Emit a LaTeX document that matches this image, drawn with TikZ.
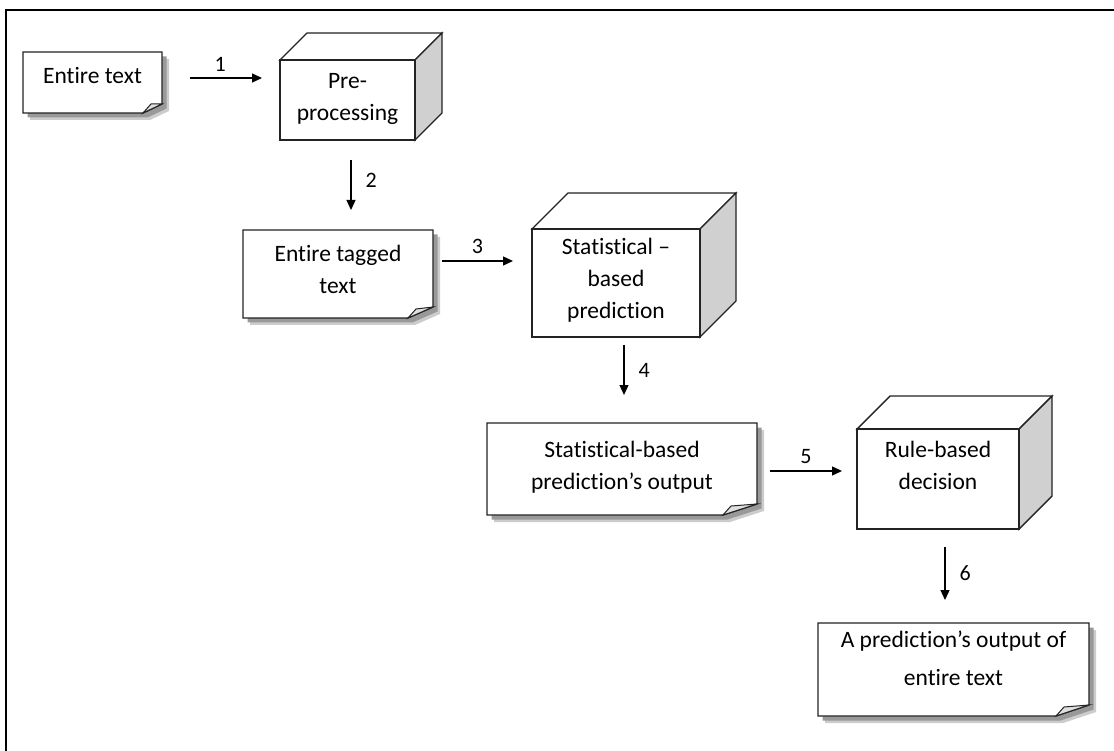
\documentclass[tikz,border=0pt]{standalone}
\usepackage{fontspec}
\setmainfont{Carlito}[Ligatures={NoCommon}]
\usetikzlibrary{arrows.meta,calc,backgrounds}
\definecolor{sidegray}{RGB}{208,208,208}
\definecolor{edge}{RGB}{35,35,35}

% text block of fixed size, set from the top: width, height, top gap, text
\newcommand\boxtext[4]{\parbox[c][#2pt][t]{#1pt}{\centering\vspace*{#3pt}\strut #4}}

% sticky note outline with shadow and folded corner: node, corner cut x, corner cut y
\newcommand\notedecor[3]{%
  \fill[gray!40] ([shift={(7,7)}]#1.north west) -- ([shift={(7,7)}]#1.north east)
    -- ([shift={(7,7-#3)}]#1.south east) -- ([shift={(7-#2,7)}]#1.south east)
    -- ([shift={(7,7)}]#1.south west) -- cycle;
  \fill[gray!80] ([shift={(4.5,4.5)}]#1.north west) -- ([shift={(4.5,4.5)}]#1.north east)
    -- ([shift={(4.5,4.5-#3)}]#1.south east) -- ([shift={(4.5-#2,4.5)}]#1.south east)
    -- ([shift={(4.5,4.5)}]#1.south west) -- cycle;
  \draw[boxline, fill=white] (#1.north west) -- (#1.north east)
    -- ([shift={(0,-#3)}]#1.south east) -- ([shift={(-#2,0)}]#1.south east)
    -- (#1.south west) -- cycle;
  \draw[boxline, line width=1pt, fill=gray!25] ([shift={(-#2,0)}]#1.south east)
    -- ([shift={(-#2+8,-9)}]#1.south east) -- ([shift={(0,-#3)}]#1.south east) -- cycle;
}

% box drawn in perspective: node, depth
\newcommand\cubedecor[2]{%
  \draw[boxline, fill=white] (#1.north west) -- ([shift={(#2,-#2)}]#1.north west)
    -- ([shift={(#2,-#2)}]#1.north east) -- (#1.north east) -- cycle;
  \draw[boxline, fill=sidegray] (#1.north east) -- ([shift={(#2,-#2)}]#1.north east)
    -- ([shift={(#2,-#2)}]#1.south east) -- (#1.south east) -- cycle;
  \draw[boxline, fill=white] (#1.north west) rectangle (#1.south east);
}

\begin{document}
\begin{tikzpicture}[x=1pt,y=-1pt,
  box/.style={rectangle, inner sep=0pt, outer sep=0pt, font=\fontsize{23.5}{32}\selectfont},
  boxline/.style={draw=edge, line width=1.4pt, line join=miter},
  flow/.style={line width=1.3pt, -{Triangle[length=10pt,width=9pt]}},
  lab/.style={font=\fontsize{22}{26}\selectfont, inner sep=1pt}]

\useasboundingbox (0,0) rectangle (1114,751);

% frame
\draw[line width=2.6pt] (6,760) -- (6,10) -- (1120,10);

% process steps
\node[box] (A) at (92.5,82.5) {\boxtext{139}{61}{9.6}{Entire text}};
\node[box] (B) at (347.5,100) {\boxtext{135}{80}{6.6}{Pre-\\processing}};
\node[box] (C) at (338,274) {\boxtext{190}{88}{9.6}{Entire tagged\\text}};
\node[box] (D) at (616,283) {\boxtext{168}{108}{3.6}{Statistical –\\based\\prediction}};
\node[box] (F) at (622,469) {\boxtext{270}{92}{11.6}{Statistical-based\\prediction’s output}};
\node[box] (E) at (938,479) {\boxtext{162}{100}{5.6}{Rule-based\\decision}};
\node[box, font=\fontsize{23.5}{38}\selectfont] (G) at (953.5,669.5)
  {\boxtext{271}{93}{-2.6}{A prediction’s output of\\entire text}};

\begin{pgfonlayer}{background}
  \notedecor{A}{19}{9}
  \notedecor{C}{25}{11}
  \notedecor{F}{34}{11}
  \notedecor{G}{33}{11}
  \cubedecor{B}{27}
  \cubedecor{D}{36}
  \cubedecor{E}{33}
\end{pgfonlayer}

% connectors
\draw[flow] ($(A.east)+(28,-4.5)$) -- ($(B.west |- A.east)+(-18,-4.5)$)
  node[lab, pos=0.42, above=5pt] {1};
\draw[flow] ($(B.south)+(3.5,20)$) -- ($(B.south |- C.north)+(3.5,-20)$)
  node[lab, pos=0.4, right=13pt] {2};
\draw[flow] ($(C.east)+(9,-13)$) -- ($(D.west |- C.east)+(-19,-13)$)
  node[lab, midway, above=6pt] {3};
\draw[flow] ($(D.south)+(8,8)$) -- ($(D.south |- F.north)+(8,-28)$)
  node[lab, midway, right=13pt] {4};
\draw[flow] ($(F.east)+(13,2)$) -- ($(E.west |- F.east)+(-15,2)$)
  node[lab, midway, above=6pt] {5};
\draw[flow] ($(E.south)+(7,18)$) -- ($(E.south |- G.north)+(7,-23)$)
  node[lab, midway, right=13pt] {6};

\end{tikzpicture}
\end{document}
